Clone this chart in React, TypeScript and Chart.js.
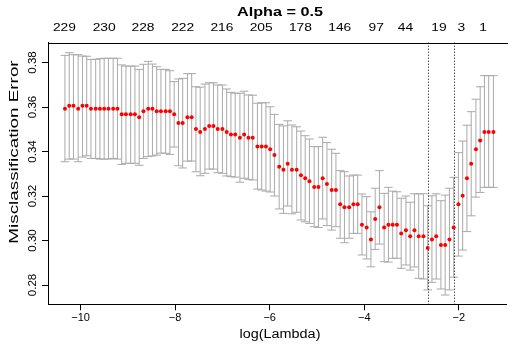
import React, { useEffect, useRef } from "react";
import { Chart, registerables } from "chart.js";

Chart.register(...registerables);

const logLambda = [
  -10.33, -10.24, -10.15, -10.05, -9.96, -9.87, -9.78, -9.68, -9.59, -9.5,
  -9.41, -9.31, -9.22, -9.13, -9.04, -8.94, -8.85, -8.76, -8.67, -8.57,
  -8.48, -8.39, -8.3, -8.2, -8.11, -8.02, -7.93, -7.84, -7.74, -7.65,
  -7.56, -7.47, -7.37, -7.28, -7.19, -7.1, -7.0, -6.91, -6.82, -6.73,
  -6.63, -6.54, -6.45, -6.36, -6.26, -6.17, -6.08, -5.99, -5.9, -5.8,
  -5.71, -5.62, -5.53, -5.43, -5.34, -5.25, -5.16, -5.06, -4.97, -4.88,
  -4.79, -4.69, -4.6, -4.51, -4.42, -4.32, -4.23, -4.14, -4.05, -3.95,
  -3.86, -3.77, -3.68, -3.58, -3.49, -3.4, -3.31, -3.22, -3.12, -3.03,
  -2.94, -2.85, -2.75, -2.66, -2.57, -2.48, -2.38, -2.29, -2.2, -2.11,
  -2.01, -1.92, -1.83, -1.74, -1.64, -1.55, -1.46, -1.37, -1.27,
];

const cvm = [
  0.3592, 0.3606, 0.3606, 0.3592, 0.3606, 0.3606, 0.3592, 0.3592, 0.3592, 0.3592,
  0.3592, 0.3592, 0.3592, 0.3567, 0.3567, 0.3567, 0.3567, 0.3554, 0.3581, 0.3592,
  0.3592, 0.3581, 0.3581, 0.3581, 0.3581, 0.3567, 0.3528, 0.3528, 0.3554, 0.3554,
  0.3501, 0.3488, 0.3501, 0.3515, 0.3515, 0.3501, 0.3501, 0.3488, 0.3476, 0.3476,
  0.3462, 0.3476, 0.3462, 0.3462, 0.3423, 0.3423, 0.3423, 0.341, 0.3384, 0.3332,
  0.3318, 0.3345, 0.3318, 0.3318, 0.3293, 0.328, 0.3266, 0.324, 0.324, 0.328,
  0.3254, 0.3227, 0.3227, 0.3163, 0.3149, 0.3149, 0.3163, 0.3163, 0.3071, 0.3058,
  0.3005, 0.3097, 0.3149, 0.3058, 0.3071, 0.3071, 0.3071, 0.3032, 0.3046, 0.3019,
  0.3046, 0.3019, 0.3019, 0.2966, 0.3005, 0.3019, 0.298, 0.298, 0.3005, 0.3058,
  0.3163, 0.3201, 0.328, 0.3345, 0.341, 0.3449, 0.3488, 0.3488, 0.3488,
];

const cvup = [
  0.3832, 0.3844, 0.3835, 0.3835, 0.3829, 0.3828, 0.3814, 0.3814, 0.3817, 0.3819,
  0.3819, 0.3819, 0.3819, 0.3789, 0.3784, 0.3784, 0.3784, 0.3769, 0.3792, 0.3805,
  0.3793, 0.3781, 0.3769, 0.3769, 0.3763, 0.3714, 0.3726, 0.3729, 0.375, 0.375,
  0.3691, 0.3689, 0.3703, 0.3709, 0.3709, 0.3699, 0.3699, 0.3681, 0.3666, 0.3662,
  0.3662, 0.3671, 0.3654, 0.3653, 0.3617, 0.3619, 0.3619, 0.3601, 0.3567, 0.3522,
  0.3515, 0.3538, 0.3519, 0.3511, 0.3492, 0.3471, 0.3456, 0.3422, 0.3422, 0.3464,
  0.344, 0.341, 0.3392, 0.3314, 0.3309, 0.329, 0.3294, 0.3294, 0.3209, 0.3197,
  0.3129, 0.3235, 0.3314, 0.3212, 0.3239, 0.3222, 0.3219, 0.319, 0.32, 0.3172,
  0.321, 0.321, 0.321, 0.3156, 0.3201, 0.321, 0.3179, 0.3204, 0.3235, 0.3284,
  0.3395, 0.3447, 0.3518, 0.3579, 0.3635, 0.3691, 0.3741, 0.3741, 0.3741,
];

const cvlo = [
  0.3354, 0.3366, 0.3366, 0.3354, 0.3375, 0.3381, 0.3369, 0.3369, 0.3366, 0.3366,
  0.3366, 0.3369, 0.3366, 0.3342, 0.3347, 0.3347, 0.3347, 0.3338, 0.3369, 0.3377,
  0.338, 0.3384, 0.3393, 0.3392, 0.3387, 0.342, 0.3336, 0.3326, 0.3357, 0.3357,
  0.3309, 0.3291, 0.3302, 0.3321, 0.3321, 0.3305, 0.3302, 0.329, 0.3287, 0.3285,
  0.3262, 0.328, 0.3275, 0.3272, 0.3231, 0.3227, 0.3222, 0.3218, 0.32, 0.3142,
  0.3122, 0.3155, 0.312, 0.3127, 0.3092, 0.3084, 0.3077, 0.3062, 0.3059, 0.3097,
  0.3067, 0.3047, 0.3062, 0.301, 0.299, 0.301, 0.3032, 0.3032, 0.2935, 0.2917,
  0.2882, 0.296, 0.2984, 0.2905, 0.2903, 0.292, 0.292, 0.2875, 0.289, 0.2867,
  0.2881, 0.283, 0.2827, 0.2778, 0.2812, 0.2827, 0.2782, 0.2755, 0.2778, 0.2835,
  0.293, 0.2957, 0.304, 0.3111, 0.3195, 0.3216, 0.3239, 0.3239, 0.3239,
];

const nzeroLabels = ["229", "230", "228", "222", "216", "205", "178", "146", "97", "44", "19", "3", "1"];
const nzeroAt = [-10.34, -9.5, -8.68, -7.84, -7.01, -6.18, -5.35, -4.52, -3.75, -3.13, -2.42, -1.95, -1.49];
const xTicks = [-10, -8, -6, -4, -2];
const yTicks = [0.28, 0.3, 0.32, 0.34, 0.36, 0.38];
const yTickLabels = ["0.28", "0.30", "0.32", "0.34", "0.36", "0.38"];
const lambdaMin = -2.66;
const lambda1se = -2.11;

const titleText = "Alpha = 0.5";
const xTitle = "log(Lambda)";
const yTitle = "Misclassification Error";

const FONT = '"Liberation Sans", Arial, Helvetica, sans-serif';

function drawText(
  ctx: CanvasRenderingContext2D,
  text: string,
  x: number,
  y: number,
  font: string,
  sx = 1,
  sy = 1,
  rot = 0
) {
  ctx.save();
  ctx.translate(x, y);
  ctx.scale(sx, sy);
  if (rot) ctx.rotate(rot);
  ctx.font = font;
  ctx.fillStyle = "#000";
  ctx.textAlign = "center";
  ctx.textBaseline = "middle";
  ctx.fillText(text, 0, 0);
  ctx.restore();
}

const errorBarPlugin = {
  id: "errorBars",
  beforeDatasetsDraw(chart: any) {
    const { ctx, scales } = chart;
    const xs = scales.x;
    const ys = scales.y;
    const barw = (logLambda[logLambda.length - 1] - logLambda[0]) * 0.01;
    ctx.save();
    ctx.strokeStyle = "#A9A9A9";
    ctx.lineWidth = 1;
    for (let i = 0; i < logLambda.length; i++) {
      const x = xs.getPixelForValue(logLambda[i]);
      const xl = xs.getPixelForValue(logLambda[i] - barw);
      const xr = xs.getPixelForValue(logLambda[i] + barw);
      const yu = ys.getPixelForValue(cvup[i]);
      const yl = ys.getPixelForValue(cvlo[i]);
      ctx.beginPath();
      ctx.moveTo(x, yu);
      ctx.lineTo(x, yl);
      ctx.moveTo(xl, yu);
      ctx.lineTo(xr, yu);
      ctx.moveTo(xl, yl);
      ctx.lineTo(xr, yl);
      ctx.stroke();
    }
    ctx.strokeStyle = "#000";
    ctx.setLineDash([1, 2]);
    for (const v of [lambdaMin, lambda1se]) {
      const x = Math.round(xs.getPixelForValue(v)) + 0.5;
      ctx.beginPath();
      ctx.moveTo(x, chart.chartArea.top);
      ctx.lineTo(x, chart.chartArea.bottom);
      ctx.stroke();
    }
    ctx.restore();
  },
  afterDraw(chart: any) {
    const { ctx, scales, chartArea } = chart;
    const xs = scales.x;
    const ys = scales.y;
    ctx.save();
    ctx.strokeStyle = "#000";
    ctx.lineWidth = 1;
    ctx.beginPath();
    const ty = Math.round(chartArea.top) + 0.5;
    ctx.moveTo(chartArea.left, ty);
    ctx.lineTo(chartArea.right + 5, ty);
    ctx.stroke();
    ctx.restore();

    const midX = (chartArea.left + 512) / 2;
    drawText(ctx, titleText, midX, 12, `bold 13.5px ${FONT}`, 1.2, 1);
    nzeroLabels.forEach((t, i) =>
      drawText(ctx, t, xs.getPixelForValue(nzeroAt[i]), 27.5, `11.5px ${FONT}`, 1.2, 1)
    );
    xTicks.forEach((v) =>
      drawText(ctx, (v < 0 ? "\u2212" : "") + Math.abs(v), xs.getPixelForValue(v), 318, `11px ${FONT}`)
    );
    drawText(ctx, xTitle, midX, 335, `12px ${FONT}`, 1.2, 1);
    yTicks.forEach((v, i) =>
      drawText(ctx, yTickLabels[i], 33, ys.getPixelForValue(v), `11.5px ${FONT}`, 1, 1, -Math.PI / 2)
    );
    drawText(ctx, yTitle, 14, 152, `13px ${FONT}`, 1, 1.45, -Math.PI / 2);
  },
};

export default function App() {
  const ref = useRef<HTMLCanvasElement | null>(null);
  useEffect(() => {
    if (!ref.current) return;
    const chart = new Chart(ref.current, {
      type: "scatter",
      data: {
        datasets: [
          {
            data: logLambda.map((x, i) => ({ x, y: cvm[i] })),
            backgroundColor: "#FF0000",
            borderColor: "#FF0000",
            pointRadius: 2,
            pointBorderWidth: 0,
            pointHoverRadius: 2,
          },
        ],
      },
      plugins: [errorBarPlugin],
      options: {
        animation: false,
        responsive: false,
        events: [],
        layout: { padding: { top: 42.7, right: 0, left: 0, bottom: 0 } },
        plugins: { legend: { display: false }, tooltip: { enabled: false }, title: { display: false } },
        scales: {
          x: {
            type: "linear",
            min: -10.688,
            max: -1.004,
            afterBuildTicks: (s: any) => {
              s.ticks = xTicks.map((v) => ({ value: v }));
            },
            afterFit: (s: any) => {
              s.height = 44.7;
            },
            ticks: { display: false },
            grid: { drawOnChartArea: false, drawTicks: true, tickLength: 6, color: "#000", lineWidth: 1 },
            border: { display: true, color: "#000", width: 1 },
          },
          y: {
            type: "linear",
            min: 0.27133,
            max: 0.3889,
            afterBuildTicks: (s: any) => {
              s.ticks = yTicks.map((v) => ({ value: v }));
            },
            afterFit: (s: any) => {
              s.width = 48;
            },
            ticks: { display: false },
            grid: { drawOnChartArea: false, drawTicks: true, tickLength: 6, color: "#000", lineWidth: 1 },
            border: { display: true, color: "#000", width: 1 },
          },
        },
      },
    });
    return () => chart.destroy();
  }, []);
  return (
    <div style={{ position: "fixed", left: 0, top: 0, width: 508, height: 349, overflow: "hidden", background: "#fff" }}>
      <canvas ref={ref} width={508} height={349} style={{ display: "block", width: 508, height: 349 }} />
    </div>
  );
}
